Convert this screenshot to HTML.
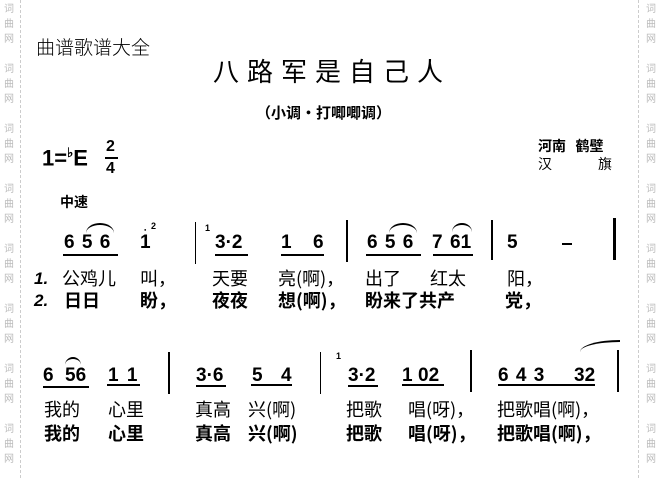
<!DOCTYPE html>
<html><head><meta charset="utf-8">
<style>
body{margin:0;width:658px;height:478px;background:#fff;position:relative;overflow:hidden;font-family:"Liberation Sans","Noto Sans CJK SC",sans-serif;}
.a{position:absolute;white-space:nowrap;line-height:1;}
.n{font-family:"Liberation Sans",sans-serif;font-weight:bold;font-size:19px;color:#000;}
.l{font-family:"Noto Sans CJK SC",sans-serif;font-size:18px;color:#000;}
.b{font-weight:bold;}
.u{position:absolute;height:2px;background:#000;}
.bar{position:absolute;width:2px;background:#000;}
.wm{position:absolute;font-family:"Noto Sans CJK SC",sans-serif;font-size:10px;color:#bbb;line-height:15px;width:12px;text-align:center;}
.dl{position:absolute;top:0;height:478px;border-left:1px dashed #ccc;}
.slur{position:absolute;border-top:2px solid #000;border-radius:50% 50% 0 0/100% 100% 0 0;}
</style></head><body>
<div class="dl" style="left:20px"></div>
<div class="dl" style="left:638px"></div>
<div class="wm" style="left:3px;top:0">词<br>曲<br>网</div>
<div class="wm" style="left:3px;top:60px">词<br>曲<br>网</div>
<div class="wm" style="left:3px;top:120px">词<br>曲<br>网</div>
<div class="wm" style="left:3px;top:180px">词<br>曲<br>网</div>
<div class="wm" style="left:3px;top:240px">词<br>曲<br>网</div>
<div class="wm" style="left:3px;top:300px">词<br>曲<br>网</div>
<div class="wm" style="left:3px;top:360px">词<br>曲<br>网</div>
<div class="wm" style="left:3px;top:420px">词<br>曲<br>网</div>
<div class="wm" style="left:645px;top:0">词<br>曲<br>网</div>
<div class="wm" style="left:645px;top:60px">词<br>曲<br>网</div>
<div class="wm" style="left:645px;top:120px">词<br>曲<br>网</div>
<div class="wm" style="left:645px;top:180px">词<br>曲<br>网</div>
<div class="wm" style="left:645px;top:240px">词<br>曲<br>网</div>
<div class="wm" style="left:645px;top:300px">词<br>曲<br>网</div>
<div class="wm" style="left:645px;top:360px">词<br>曲<br>网</div>
<div class="wm" style="left:645px;top:420px">词<br>曲<br>网</div>

<div class="a l" style="left:36px;top:37px;font-size:19px;font-weight:300">曲谱歌谱大全</div>
<div class="a l" style="left:213px;top:58px;font-size:26px;letter-spacing:8px">八路军是自己人</div>
<div class="a l" style="left:256px;top:105px;font-size:15px;font-weight:bold">（小调·打唧唧调）</div>

<div class="a n" style="left:42px;top:146px;font-size:22px">1=<sup style="font-size:13px">♭</sup>E</div>
<div class="a n" style="left:106px;top:139px;font-size:16px">2</div>
<div class="u" style="left:105px;top:157px;width:13px"></div>
<div class="a n" style="left:106px;top:161px;font-size:16px">4</div>
<div class="a l" style="left:538px;top:139px;font-size:14px;font-weight:bold">河南&nbsp;&nbsp; 鹤壁</div>
<div class="a l" style="left:538px;top:157px;font-size:14px">汉<span style="margin-left:46px">旗</span></div>
<div class="a l" style="left:60px;top:195px;font-size:14px;font-weight:bold">中速</div>

<!-- row1 notes -->
<div class="a n" style="left:64px;top:233px;word-spacing:2px">6 5 6</div>
<div class="slur" style="left:86px;top:223px;width:28px;height:8px"></div>
<div class="u" style="left:63px;top:254px;width:55px"></div>
<div class="a n" style="left:140px;top:233px">1</div>
<div class="a" style="left:144px;top:228px;font-size:4px">●</div>
<div class="a n" style="left:151px;top:222px;font-size:9px">2</div>
<div class="bar" style="left:195px;top:222px;height:42px;width:1px"></div>
<div class="a n" style="left:205px;top:224px;font-size:9px">1</div>
<div class="a n" style="left:215px;top:233px">3·2</div>
<div class="u" style="left:215px;top:254px;width:33px"></div>
<div class="a n" style="left:281px;top:233px">1</div>
<div class="a n" style="left:313px;top:233px">6</div>
<div class="u" style="left:281px;top:254px;width:43px"></div>
<div class="bar" style="left:346px;top:220px;height:42px"></div>
<div class="a n" style="left:367px;top:233px;word-spacing:2px">6 5 6</div>
<div class="slur" style="left:389px;top:223px;width:28px;height:8px"></div>
<div class="u" style="left:366px;top:254px;width:55px"></div>
<div class="a n" style="left:432px;top:233px">7</div>
<div class="a n" style="left:450px;top:233px">61</div>
<div class="slur" style="left:452px;top:223px;width:20px;height:7px"></div>
<div class="u" style="left:433px;top:254px;width:40px"></div>
<div class="bar" style="left:491px;top:220px;height:40px"></div>
<div class="a n" style="left:507px;top:233px">5</div>
<div class="u" style="left:562px;top:243px;width:10px"></div>
<div class="bar" style="left:613px;top:218px;width:3px;height:42px"></div>

<!-- row1 lyrics -->
<div class="a n" style="left:34px;top:270px;font-style:italic;font-size:17px">1.</div>
<div class="a l" style="left:62px;top:269px">公鸡儿</div>
<div class="a l" style="left:140px;top:269px">叫，</div>
<div class="a l" style="left:212px;top:269px">天要</div>
<div class="a l" style="left:278px;top:269px">亮(啊)，</div>
<div class="a l" style="left:365px;top:269px">出了</div>
<div class="a l" style="left:430px;top:269px">红太</div>
<div class="a l" style="left:507px;top:269px">阳，</div>

<div class="a n" style="left:34px;top:292px;font-style:italic;font-size:17px">2.</div>
<div class="a l b" style="left:64px;top:291px">日日</div>
<div class="a l b" style="left:140px;top:291px">盼，</div>
<div class="a l b" style="left:212px;top:291px">夜夜</div>
<div class="a l b" style="left:278px;top:291px">想(啊)，</div>
<div class="a l b" style="left:365px;top:291px">盼来了共产</div>
<div class="a l b" style="left:505px;top:291px">党，</div>

<!-- row2 notes -->
<div class="a n" style="left:43px;top:366px">6</div>
<div class="a n" style="left:65px;top:366px">56</div>
<div class="slur" style="left:65px;top:357px;width:16px;height:6px"></div>
<div class="u" style="left:43px;top:386px;width:46px"></div>
<div class="a n" style="left:108px;top:366px;word-spacing:3px">1 1</div>
<div class="u" style="left:107px;top:384px;width:33px"></div>
<div class="bar" style="left:168px;top:352px;height:42px"></div>
<div class="a n" style="left:196px;top:366px">3·6</div>
<div class="u" style="left:196px;top:385px;width:30px"></div>
<div class="a n" style="left:252px;top:366px">5</div>
<div class="a n" style="left:281px;top:366px">4</div>
<div class="u" style="left:251px;top:384px;width:41px"></div>
<div class="bar" style="left:320px;top:352px;height:42px;width:1px"></div>
<div class="a n" style="left:336px;top:352px;font-size:9px">1</div>
<div class="a n" style="left:348px;top:366px">3·2</div>
<div class="u" style="left:348px;top:385px;width:30px"></div>
<div class="a n" style="left:402px;top:366px">1</div>
<div class="a n" style="left:418px;top:366px">02</div>
<div class="u" style="left:402px;top:384px;width:42px"></div>
<div class="bar" style="left:470px;top:350px;height:42px"></div>
<div class="a n" style="left:498px;top:366px;word-spacing:2px">6 4 3</div>
<div class="a n" style="left:574px;top:366px">32</div>
<div class="u" style="left:498px;top:384px;width:97px"></div>
<div class="slur" style="left:580px;top:340px;width:40px;height:10px;border-radius:100% 0 0 0/100% 0 0 0"></div>
<div class="bar" style="left:617px;top:350px;height:42px"></div>

<!-- row2 lyrics -->
<div class="a l" style="left:44px;top:400px">我的</div>
<div class="a l" style="left:108px;top:400px">心里</div>
<div class="a l" style="left:195px;top:400px">真高</div>
<div class="a l" style="left:248px;top:400px">兴(啊)</div>
<div class="a l" style="left:346px;top:400px">把歌</div>
<div class="a l" style="left:408px;top:400px">唱(呀)，</div>
<div class="a l" style="left:497px;top:400px">把歌唱(啊)，</div>

<div class="a l b" style="left:44px;top:424px">我的</div>
<div class="a l b" style="left:108px;top:424px">心里</div>
<div class="a l b" style="left:195px;top:424px">真高</div>
<div class="a l b" style="left:248px;top:424px">兴(啊)</div>
<div class="a l b" style="left:346px;top:424px">把歌</div>
<div class="a l b" style="left:408px;top:424px">唱(呀)，</div>
<div class="a l b" style="left:497px;top:424px">把歌唱(啊)，</div>
</body></html>
